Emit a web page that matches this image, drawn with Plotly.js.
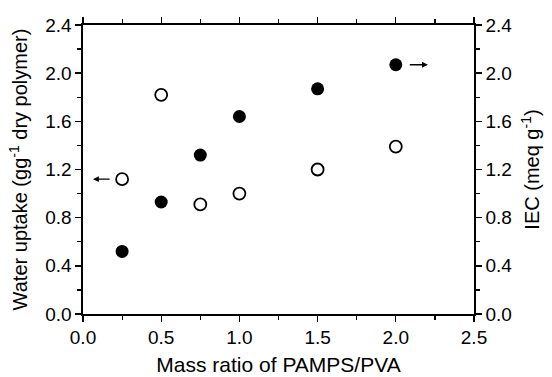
<!DOCTYPE html>
<html>
<head>
<meta charset="utf-8">
<script src="https://cdn.plot.ly/plotly-3.0.1.min.js"></script>
<style>html,body{margin:0;padding:0;background:#fff;}#chart{width:552px;height:377px;}</style>
</head>
<body>
<div id="chart"></div>
<script>
const massRatio = [0.25, 0.5, 0.75, 1.0, 1.5, 2.0];
const waterUptake = [1.12, 1.82, 0.91, 1.00, 1.20, 1.39];
const iec = [0.52, 0.93, 1.32, 1.64, 1.87, 2.07];

const xTicks = [0, 0.5, 1.0, 1.5, 2.0, 2.5];
const xTickLabels = ['0.0', '0.5', '1.0', '1.5', '2.0', '2.5'];
const yTicks = [0, 0.4, 0.8, 1.2, 1.6, 2.0, 2.4];
const yTickLabels = ['0.0', '0.4', '0.8', '1.2', '1.6', '2.0', '2.4'];

const FONT = 'Liberation Sans, Arial, Helvetica, sans-serif';

const traces = [
  {
    x: massRatio, y: waterUptake, type: 'scatter', mode: 'markers',
    name: 'Water uptake', yaxis: 'y',
    marker: {symbol: 'circle-open', size: 12, color: '#000', line: {width: 1.8, color: '#000'}},
    cliponaxis: false
  },
  {
    x: massRatio, y: iec, type: 'scatter', mode: 'markers',
    name: 'IEC', yaxis: 'y2',
    marker: {symbol: 'circle', size: 13, color: '#000'},
    cliponaxis: false
  }
];

const axisCommon = {
  showgrid: false, zeroline: false, showline: true, linecolor: '#000', linewidth: 1.6,
  ticks: 'outside', ticklen: 6, tickwidth: 1.4, tickcolor: '#000',
  tickfont: {family: FONT, size: 19, color: '#000'},
  fixedrange: true
};

const layout = {
  width: 552, height: 377,
  margin: {l: 83, r: 78, t: 25, b: 63},
  paper_bgcolor: '#fff', plot_bgcolor: '#fff',
  showlegend: false,
  font: {family: FONT, color: '#000'},
  xaxis: Object.assign({}, axisCommon, {
    range: [0, 2.5], tickvals: xTicks, ticktext: xTickLabels, mirror: 'ticks',
    minor: {dtick: 0.25, tick0: 0, ticks: 'outside', ticklen: 4, tickwidth: 1.2, tickcolor: '#000'},
    title: {text: 'Mass ratio of PAMPS/PVA', font: {family: FONT, size: 21, color: '#000'}, standoff: 10}
  }),
  yaxis: Object.assign({}, axisCommon, {
    range: [0, 2.4], tickvals: yTicks, ticktext: yTickLabels,
    minor: {dtick: 0.2, tick0: 0, ticks: 'outside', ticklen: 4, tickwidth: 1.2, tickcolor: '#000'},
    title: {text: 'Water uptake (gg<sup>-1</sup> dry polymer)', font: {family: FONT, size: 20, color: '#000'}, standoff: 12}
  }),
  yaxis2: Object.assign({}, axisCommon, {
    range: [0, 2.4], tickvals: yTicks, ticktext: yTickLabels,
    overlaying: 'y', side: 'right',
    minor: {dtick: 0.2, tick0: 0, ticks: 'outside', ticklen: 4, tickwidth: 1.2, tickcolor: '#000'},
    title: {text: 'IEC (meq g<sup>-1</sup>)', font: {family: FONT, size: 20, color: '#000'}, standoff: 14}
  }),
  annotations: [
    {
      x: 0.064, y: waterUptake[0], xref: 'x', yref: 'y',
      ax: 0.18, ay: waterUptake[0], axref: 'x', ayref: 'y',
      text: '', showarrow: true, arrowhead: 2, arrowsize: 0.9, arrowwidth: 1.3, arrowcolor: '#000'
    },
    {
      x: 2.205, y: iec[iec.length - 1], xref: 'x', yref: 'y2',
      ax: 2.08, ay: iec[iec.length - 1], axref: 'x', ayref: 'y2',
      text: '', showarrow: true, arrowhead: 2, arrowsize: 0.9, arrowwidth: 1.3, arrowcolor: '#000'
    }
  ]
};

Plotly.newPlot('chart', traces, layout, {displayModeBar: false, staticPlot: true});
</script>
</body>
</html>
